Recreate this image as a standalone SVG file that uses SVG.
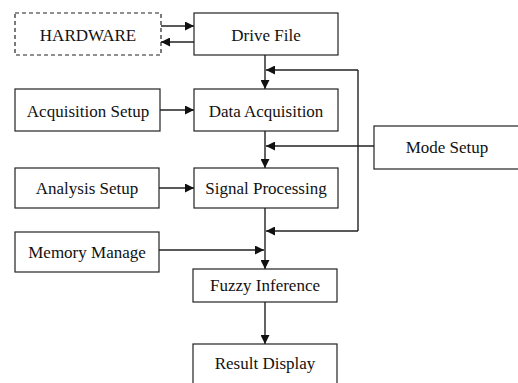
<svg xmlns="http://www.w3.org/2000/svg" width="518" height="383" viewBox="0 0 518 383">
<style>
.box{fill:#fff;stroke:#222;stroke-width:1.2}
.dash{fill:#fff;stroke:#222;stroke-width:1.2;stroke-dasharray:4 3}
.lbl{font-family:"Liberation Serif","Times New Roman",serif;font-size:17px;fill:#111;text-anchor:middle}
.c{fill:none;stroke:#222;stroke-width:1.4}
.a{marker-end:url(#ah)}
</style>
<defs>
<marker id="ah" markerUnits="userSpaceOnUse" markerWidth="10" markerHeight="9" refX="9" refY="4.5" orient="auto">
<path d="M0,0 L9,4.5 L0,9 Z" fill="#111"/>
</marker>
</defs>
<rect width="518" height="383" fill="#fff"/>
<g id="connectors">
<line class="c a" x1="161" y1="26" x2="194" y2="26"/>
<line class="c a" x1="194" y1="42" x2="161" y2="42"/>
<line class="c a" x1="160" y1="110" x2="194" y2="110"/>
<line class="c a" x1="159" y1="188" x2="194" y2="188"/>
<line class="c a" x1="265" y1="55" x2="265" y2="89"/>
<line class="c a" x1="265" y1="131" x2="265" y2="168"/>
<line class="c a" x1="265" y1="208" x2="265" y2="269"/>
<line class="c a" x1="265" y1="302" x2="265" y2="344"/>
<polyline class="c a" points="358,70 266,70"/>
<line class="c" x1="358" y1="70" x2="358" y2="231"/>
<line class="c a" x1="358" y1="231" x2="266" y2="231"/>
<line class="c a" x1="374" y1="146" x2="266" y2="146"/>
<line class="c a" x1="159" y1="250" x2="264" y2="250"/>
</g>
<g id="hardware"><rect class="dash" x="15" y="13" width="146" height="42"/><text class="lbl" x="88" y="41">HARDWARE</text></g>
<g id="drive-file"><rect class="box" x="194" y="13" width="144" height="42"/><text class="lbl" x="266" y="41">Drive File</text></g>
<g id="acquisition-setup"><rect class="box" x="15" y="89" width="145" height="42"/><text class="lbl" x="88" y="117">Acquisition Setup</text></g>
<g id="data-acquisition"><rect class="box" x="194" y="89" width="144" height="42"/><text class="lbl" x="266" y="117">Data Acquisition</text></g>
<g id="mode-setup"><rect class="box" x="374" y="126" width="160" height="43"/><text class="lbl" x="447" y="153">Mode Setup</text></g>
<g id="analysis-setup"><rect class="box" x="15" y="168" width="144" height="40"/><text class="lbl" x="87" y="194">Analysis Setup</text></g>
<g id="signal-processing"><rect class="box" x="194" y="168" width="144" height="40"/><text class="lbl" x="266" y="194">Signal Processing</text></g>
<g id="memory-manage"><rect class="box" x="15" y="232" width="144" height="40"/><text class="lbl" x="87" y="258">Memory Manage</text></g>
<g id="fuzzy-inference"><rect class="box" x="193" y="269" width="144" height="33"/><text class="lbl" x="265" y="291">Fuzzy Inference</text></g>
<g id="result-display"><rect class="box" x="193" y="344" width="144" height="50"/><text class="lbl" x="265" y="369">Result Display</text></g>
</svg>
